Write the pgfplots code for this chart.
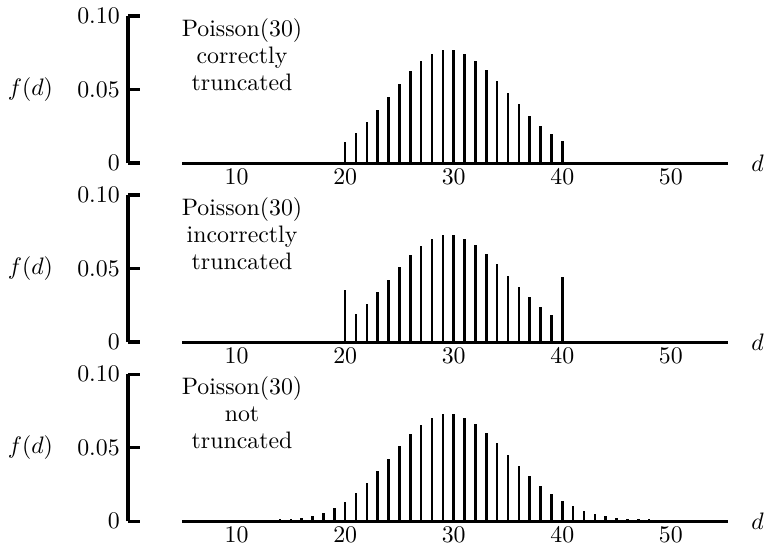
\documentclass[border=0pt]{standalone}
\usepackage{pgfplots}
\pgfplotsset{compat=1.18}
\pgfplotsset{
 panel/.style={
  x=4.557pt, y=617.4pt,
  xmin=0, xmax=56, ymin=0, ymax=0.1,
  enlargelimits=false,
  axis x line=bottom, axis y line=left,
  x axis line style={draw=none},
  y axis line style={-, black, line width=1.4pt},
  xtick={10,20,30,40,50},
  xtick style={draw=none},
  xtick align=inside,
  xticklabel style={yshift=1pt},
  ytick={0,0.05,0.1},
  yticklabels={$0$,$0.05$,$0.10$},
  ytick align=inside,
  ytick style={black, line width=1.4pt},
  major tick length=5pt,
  clip=false,
 },
 spikes/.style={ycomb, black, line width=1.1pt, mark=none},
}
\begin{document}
\begin{tikzpicture}
% Panel 1: correctly truncated
\begin{axis}[panel, at={(0,0)}]
\addplot[spikes] table {
x y
20 0.01418
21 0.02026
22 0.02763
23 0.03603
24 0.04504
25 0.05404
26 0.06236
27 0.06928
28 0.07423
29 0.07679
30 0.07679
31 0.07432
32 0.06968
33 0.06334
34 0.05589
35 0.04791
36 0.03992
37 0.03236
38 0.02555
39 0.01966
40 0.01474
};
\draw[line width=1.2pt] (axis cs:5,0) -- (axis cs:55.3,0);
\node[align=center, anchor=north, inner sep=0pt, font={\fontsize{10}{11.3}\selectfont}] at (axis cs:10.5,0.0986) {Poisson(30)\\correctly\\truncated};
\node at (axis cs:-9,0.05) {$f(d)$};
\node at (axis cs:58,0) {$d$};
\coordinate (tl) at (axis cs:-11.8,0.1109);
\end{axis}
% Panel 2: incorrectly truncated
\begin{axis}[panel, at={(0,-75.18pt)}]
\addplot[spikes] table {
x y
20 0.0353
21 0.01916
22 0.02613
23 0.03408
24 0.04260
25 0.05111
26 0.05898
27 0.06553
28 0.07021
29 0.07263
30 0.07263
31 0.07029
32 0.06590
33 0.05991
34 0.05286
35 0.04531
36 0.03776
37 0.03061
38 0.02417
39 0.01859
40 0.0444
};
\draw[line width=1.2pt] (axis cs:5,0) -- (axis cs:55.3,0);
\node[align=center, anchor=north, inner sep=0pt, font={\fontsize{10}{11.3}\selectfont}] at (axis cs:10.5,0.0986) {Poisson(30)\\incorrectly\\truncated};
\node at (axis cs:-9,0.05) {$f(d)$};
\node at (axis cs:58,0) {$d$};
\end{axis}
% Panel 3: not truncated
\begin{axis}[panel, at={(0,-150.36pt)}]
\addplot[spikes] table {
x y
14 0.0012
15 0.0015
16 0.0021
17 0.00340
18 0.00566
19 0.00894
20 0.01341
21 0.01916
22 0.02613
23 0.03408
24 0.04260
25 0.05111
26 0.05898
27 0.06553
28 0.07021
29 0.07263
30 0.07263
31 0.07029
32 0.06590
33 0.05991
34 0.05286
35 0.04531
36 0.03776
37 0.03061
38 0.02417
39 0.01859
40 0.01394
41 0.01020
42 0.00729
43 0.00508
44 0.00347
45 0.00231
46 0.00180
47 0.0013
48 0.0012
};
\draw[line width=1.2pt] (axis cs:5,0) -- (axis cs:55.3,0);
\node[align=center, anchor=north, inner sep=0pt, font={\fontsize{10}{11.3}\selectfont}] at (axis cs:10.5,0.0986) {Poisson(30)\\not\\truncated};
\node at (axis cs:-9,0.05) {$f(d)$};
\node at (axis cs:58,0) {$d$};
\coordinate (br) at (axis cs:59.6,-0.0163);
\end{axis}
\pgfresetboundingbox
\useasboundingbox (tl) rectangle (br);
\end{tikzpicture}
\end{document}
